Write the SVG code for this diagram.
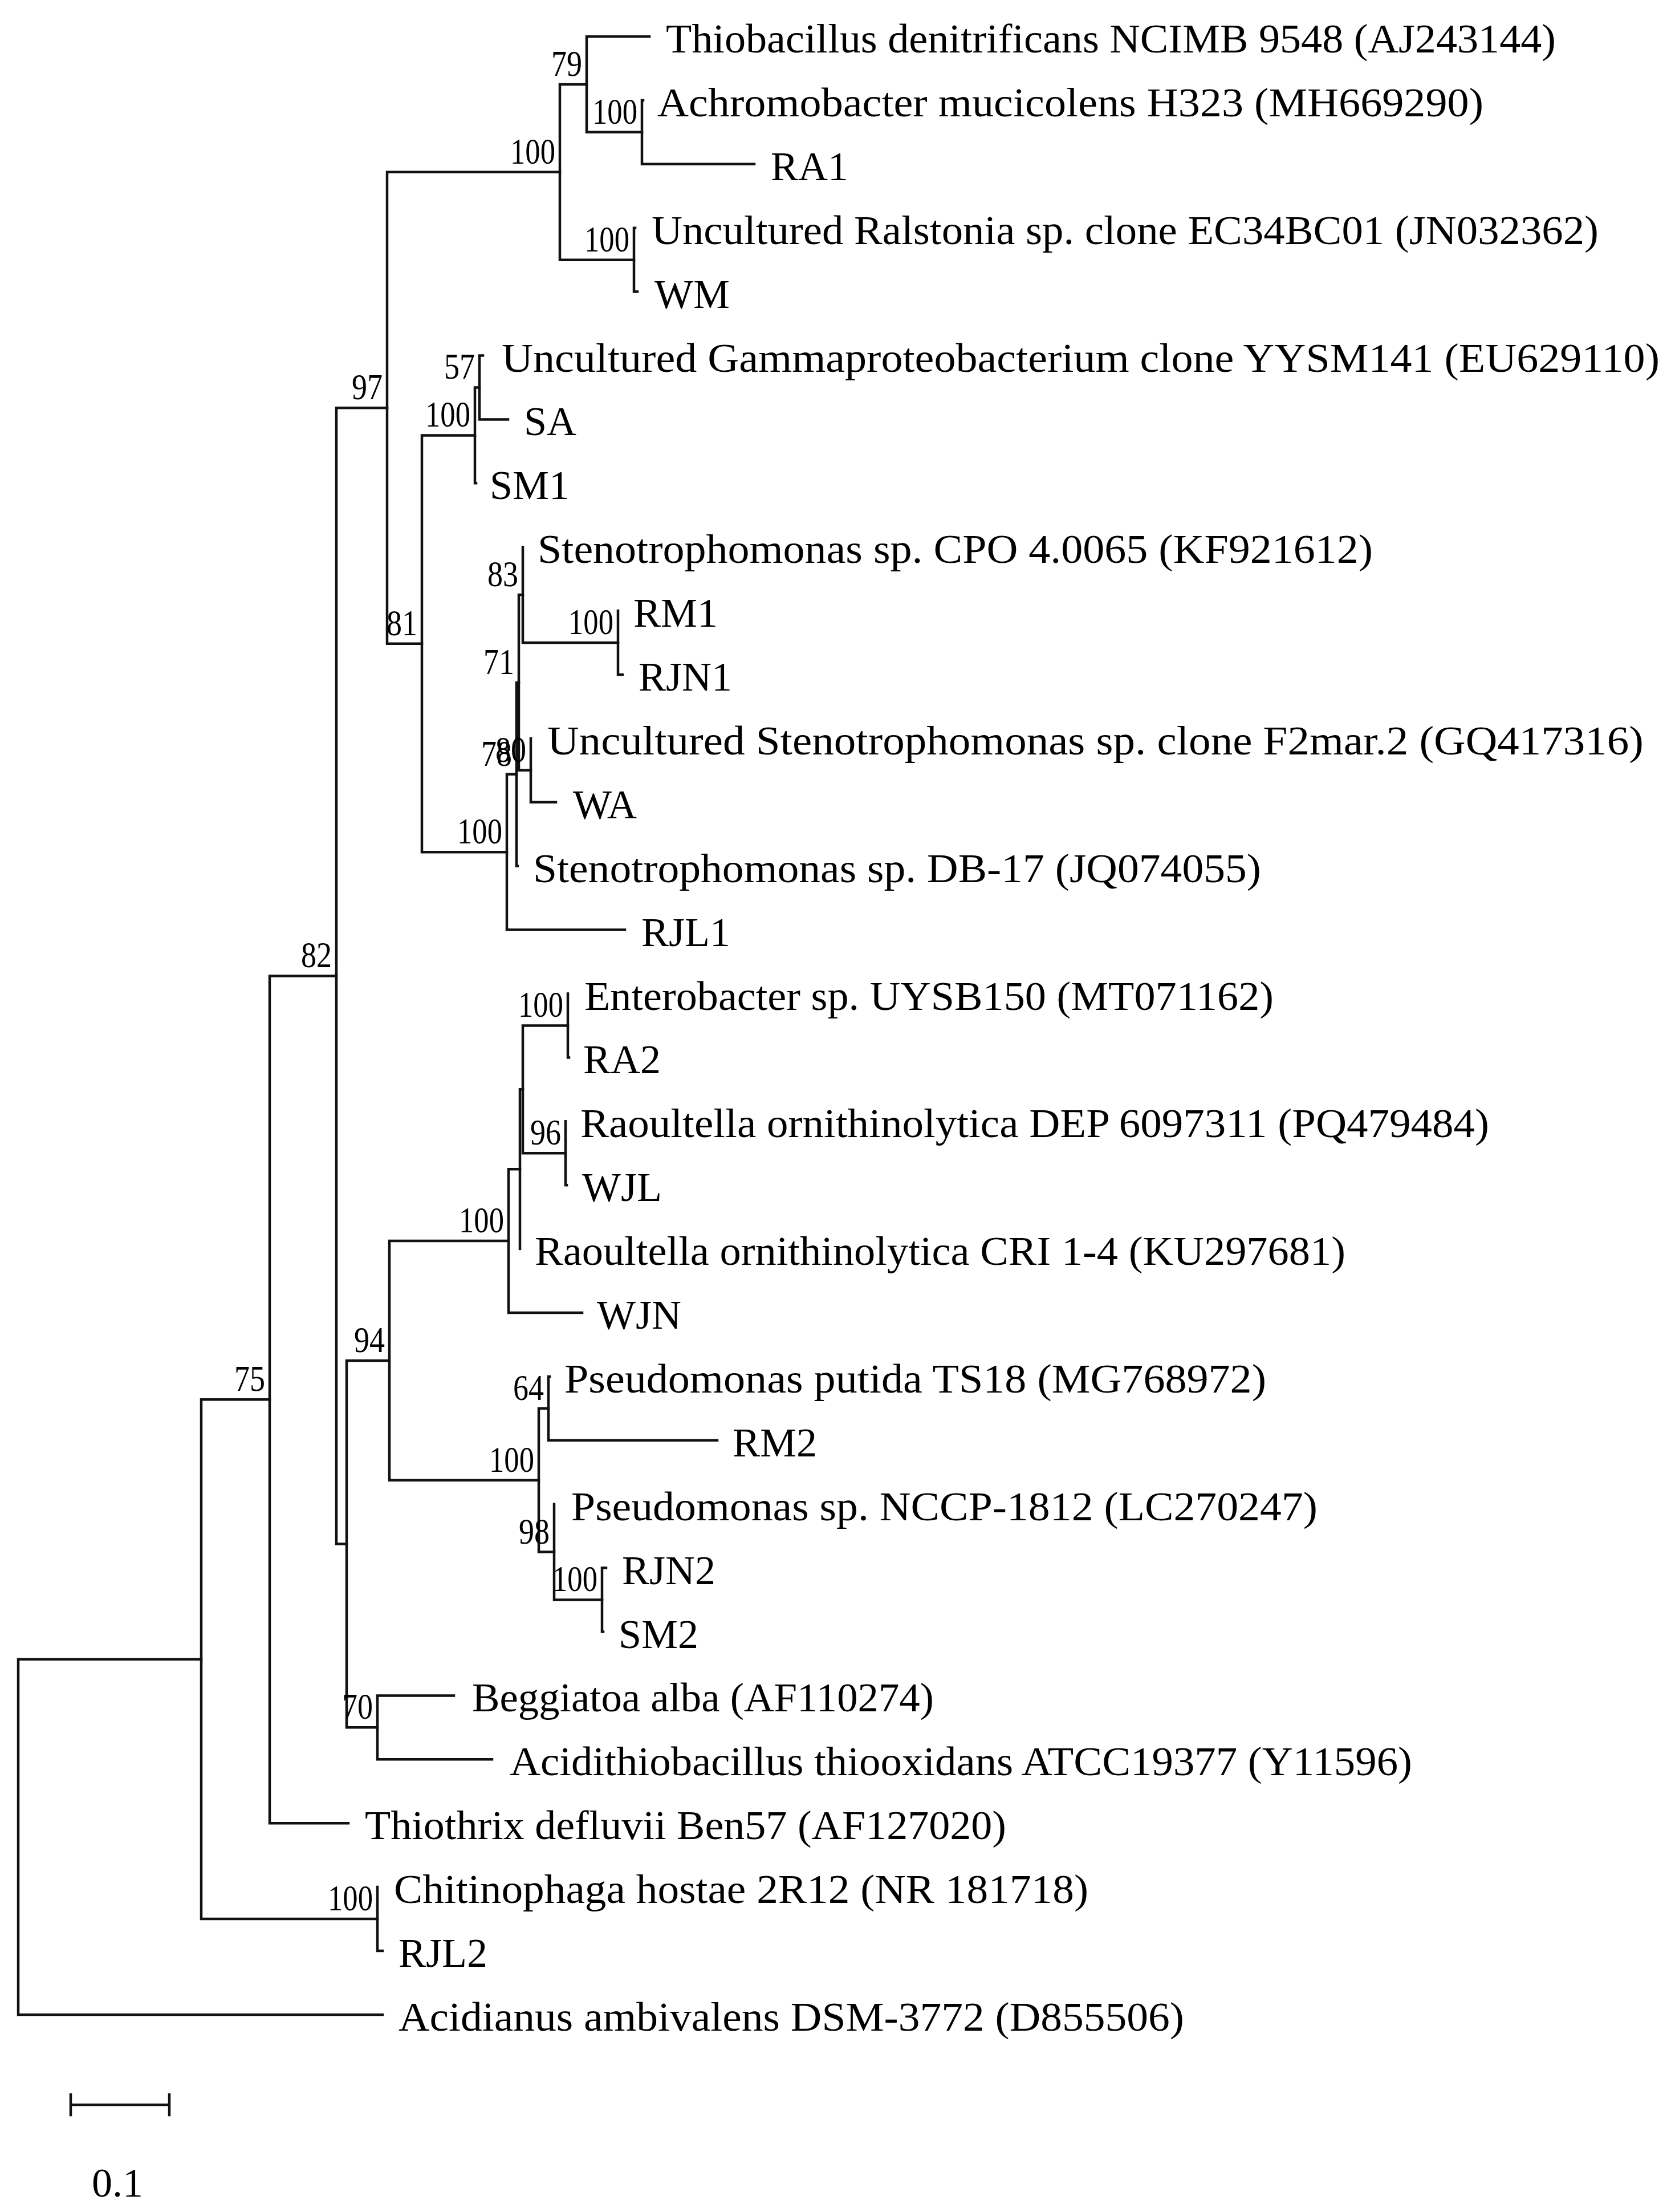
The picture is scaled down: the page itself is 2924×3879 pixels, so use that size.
<svg xmlns="http://www.w3.org/2000/svg" width="2924" height="3879" viewBox="0 0 2924 3879">
<style>
.br{fill:none;stroke:#111;stroke-width:4.5;stroke-linejoin:miter;stroke-linecap:square}
.tx{font-family:"Liberation Serif","Times New Roman",serif;font-size:72px;fill:#000}
.bs{font-family:"Liberation Serif","Times New Roman",serif;font-size:63px;fill:#000;text-anchor:end}
</style>
<rect width="2924" height="3879" fill="#fff"/>
<g id="connectors">
<path class="br" d="M1139 64 H1029 V231.85 H1126"/>
<path class="br" d="M1128 175.9 H1126 V287.8 H1323"/>
<path class="br" d="M1114 399.7 H1112 V511.6 H1118"/>
<path class="br" d="M1029 147.9 H982 V455.65 H1112"/>
<path class="br" d="M847 623.5 H841 V735.4 H891"/>
<path class="br" d="M841 679.45 H833 V847.3 H835"/>
<path class="br" d="M1084 1071.1 V1183 H1092"/>
<path class="br" d="M917 959.2 V1127.05 H1084"/>
<path class="br" d="M931 1294.9 V1406.8 H975"/>
<path class="br" d="M917 1043.1 H910 V1350.85 H931"/>
<path class="br" d="M910 1197 H906 V1518.7 H908"/>
<path class="br" d="M906 1357.85 H889 V1630.6 H1096"/>
<path class="br" d="M833 763.4 H740 V1494.2 H889"/>
<path class="br" d="M982 301.8 H679 V1128.8 H740"/>
<path class="br" d="M996 1742.5 V1854.4 H998"/>
<path class="br" d="M992 1966.3 V2078.2 H994"/>
<path class="br" d="M996 1798.45 H917 V2022.25 H992"/>
<path class="br" d="M917 1910.35 H912 V2190.1"/>
<path class="br" d="M912 2050.2 H892 V2302 H1021"/>
<path class="br" d="M964 2413.9 H962 V2525.8 H1258"/>
<path class="br" d="M1063 2749.6 H1056 V2861.5 H1058"/>
<path class="br" d="M972 2637.7 V2805.55 H1056"/>
<path class="br" d="M962 2469.85 H945 V2721.6 H972"/>
<path class="br" d="M892 2176.1 H683 V2595.7 H945"/>
<path class="br" d="M796 2973.4 H662 V3085.3 H863"/>
<path class="br" d="M683 2385.9 H608 V3029.35 H662"/>
<path class="br" d="M679 715.3 H590 V2707.6 H608"/>
<path class="br" d="M590 1711.45 H473 V3197.2 H611"/>
<path class="br" d="M662 3309.1 V3421 H671"/>
<path class="br" d="M473 2454.3 H353 V3365.05 H662"/>
<path class="br" d="M353 2909.7 H32 V3532.9 H671"/>
</g>
<g id="taxa">
<g id="t0"><text class="tx" x="1168" y="92" textLength="1561" lengthAdjust="spacingAndGlyphs">Thiobacillus denitrificans NCIMB 9548 (AJ243144)</text></g>
<g id="t1"><text class="tx" x="1153" y="204" textLength="1449" lengthAdjust="spacingAndGlyphs">Achromobacter mucicolens H323 (MH669290)</text></g>
<g id="t2"><text class="tx" x="1352" y="316">RA1</text></g>
<g id="t3"><text class="tx" x="1143" y="428" textLength="1661" lengthAdjust="spacingAndGlyphs">Uncultured Ralstonia sp. clone EC34BC01 (JN032362)</text></g>
<g id="t4"><text class="tx" x="1148" y="540">WM</text></g>
<g id="t5"><text class="tx" x="880" y="652" textLength="2031" lengthAdjust="spacingAndGlyphs">Uncultured Gammaproteobacterium clone YYSM141 (EU629110)</text></g>
<g id="t6"><text class="tx" x="919" y="763">SA</text></g>
<g id="t7"><text class="tx" x="859" y="875">SM1</text></g>
<g id="t8"><text class="tx" x="943" y="987" textLength="1465" lengthAdjust="spacingAndGlyphs">Stenotrophomonas sp. CPO 4.0065 (KF921612)</text></g>
<g id="t9"><text class="tx" x="1111" y="1099">RM1</text></g>
<g id="t10"><text class="tx" x="1120" y="1211">RJN1</text></g>
<g id="t11"><text class="tx" x="960" y="1323" textLength="1923" lengthAdjust="spacingAndGlyphs">Uncultured Stenotrophomonas sp. clone F2mar.2 (GQ417316)</text></g>
<g id="t12"><text class="tx" x="1005" y="1435">WA</text></g>
<g id="t13"><text class="tx" x="935" y="1547" textLength="1277" lengthAdjust="spacingAndGlyphs">Stenotrophomonas sp. DB-17 (JQ074055)</text></g>
<g id="t14"><text class="tx" x="1125" y="1659">RJL1</text></g>
<g id="t15"><text class="tx" x="1025" y="1771" textLength="1209" lengthAdjust="spacingAndGlyphs">Enterobacter sp. UYSB150 (MT071162)</text></g>
<g id="t16"><text class="tx" x="1023" y="1882">RA2</text></g>
<g id="t17"><text class="tx" x="1018" y="1994" textLength="1594" lengthAdjust="spacingAndGlyphs">Raoultella ornithinolytica DEP 6097311 (PQ479484)</text></g>
<g id="t18"><text class="tx" x="1021" y="2106">WJL</text></g>
<g id="t19"><text class="tx" x="938" y="2218" textLength="1422" lengthAdjust="spacingAndGlyphs">Raoultella ornithinolytica CRI 1-4 (KU297681)</text></g>
<g id="t20"><text class="tx" x="1047" y="2330">WJN</text></g>
<g id="t21"><text class="tx" x="990" y="2442" textLength="1231" lengthAdjust="spacingAndGlyphs">Pseudomonas putida TS18 (MG768972)</text></g>
<g id="t22"><text class="tx" x="1285" y="2554">RM2</text></g>
<g id="t23"><text class="tx" x="1002" y="2666" textLength="1309" lengthAdjust="spacingAndGlyphs">Pseudomonas sp. NCCP-1812 (LC270247)</text></g>
<g id="t24"><text class="tx" x="1091" y="2778">RJN2</text></g>
<g id="t25"><text class="tx" x="1085" y="2890">SM2</text></g>
<g id="t26"><text class="tx" x="828" y="3001" textLength="810" lengthAdjust="spacingAndGlyphs">Beggiatoa alba (AF110274)</text></g>
<g id="t27"><text class="tx" x="894" y="3113" textLength="1583" lengthAdjust="spacingAndGlyphs">Acidithiobacillus thiooxidans ATCC19377 (Y11596)</text></g>
<g id="t28"><text class="tx" x="640" y="3225" textLength="1125" lengthAdjust="spacingAndGlyphs">Thiothrix defluvii Ben57 (AF127020)</text></g>
<g id="t29"><text class="tx" x="691" y="3337" textLength="1218" lengthAdjust="spacingAndGlyphs">Chitinophaga hostae 2R12 (NR 181718)</text></g>
<g id="t30"><text class="tx" x="699" y="3449">RJL2</text></g>
<g id="t31"><text class="tx" x="699" y="3561" textLength="1378" lengthAdjust="spacingAndGlyphs">Acidianus ambivalens DSM-3772 (D855506)</text></g>
</g>
<g id="bootstrap">
<g id="n79"><text class="bs" x="1021" y="133" textLength="54" lengthAdjust="spacingAndGlyphs">79</text></g>
<g id="nA"><text class="bs" x="1118" y="217" textLength="79" lengthAdjust="spacingAndGlyphs">100</text></g>
<g id="nR"><text class="bs" x="1104" y="441" textLength="79" lengthAdjust="spacingAndGlyphs">100</text></g>
<g id="nB"><text class="bs" x="974" y="287" textLength="79" lengthAdjust="spacingAndGlyphs">100</text></g>
<g id="n57"><text class="bs" x="833" y="664" textLength="54" lengthAdjust="spacingAndGlyphs">57</text></g>
<g id="nG"><text class="bs" x="825" y="748" textLength="79" lengthAdjust="spacingAndGlyphs">100</text></g>
<g id="nRM"><text class="bs" x="1076" y="1112" textLength="79" lengthAdjust="spacingAndGlyphs">100</text></g>
<g id="n83"><text class="bs" x="909" y="1028" textLength="54" lengthAdjust="spacingAndGlyphs">83</text></g>
<g id="n71"><text class="bs" x="902" y="1182" textLength="54" lengthAdjust="spacingAndGlyphs">71</text></g>
<g id="n78"><text class="bs" x="898" y="1343" textLength="54" lengthAdjust="spacingAndGlyphs">78</text></g>
<g id="n80"><text class="bs" x="923" y="1336" textLength="54" lengthAdjust="spacingAndGlyphs">80</text></g>
<g id="nS"><text class="bs" x="881" y="1479" textLength="79" lengthAdjust="spacingAndGlyphs">100</text></g>
<g id="n81"><text class="bs" x="732" y="1114" textLength="54" lengthAdjust="spacingAndGlyphs">81</text></g>
<g id="n97"><text class="bs" x="671" y="700" textLength="54" lengthAdjust="spacingAndGlyphs">97</text></g>
<g id="nE"><text class="bs" x="988" y="1783" textLength="79" lengthAdjust="spacingAndGlyphs">100</text></g>
<g id="n96"><text class="bs" x="984" y="2007" textLength="54" lengthAdjust="spacingAndGlyphs">96</text></g>
<g id="nM"><text class="bs" x="884" y="2161" textLength="79" lengthAdjust="spacingAndGlyphs">100</text></g>
<g id="n64"><text class="bs" x="954" y="2455" textLength="54" lengthAdjust="spacingAndGlyphs">64</text></g>
<g id="nRS"><text class="bs" x="1048" y="2790" textLength="79" lengthAdjust="spacingAndGlyphs">100</text></g>
<g id="n98"><text class="bs" x="964" y="2707" textLength="54" lengthAdjust="spacingAndGlyphs">98</text></g>
<g id="nP"><text class="bs" x="937" y="2581" textLength="79" lengthAdjust="spacingAndGlyphs">100</text></g>
<g id="n94"><text class="bs" x="675" y="2371" textLength="54" lengthAdjust="spacingAndGlyphs">94</text></g>
<g id="n70"><text class="bs" x="654" y="3014" textLength="54" lengthAdjust="spacingAndGlyphs">70</text></g>
<g id="n82"><text class="bs" x="582" y="1696" textLength="54" lengthAdjust="spacingAndGlyphs">82</text></g>
<g id="nC"><text class="bs" x="654" y="3350" textLength="79" lengthAdjust="spacingAndGlyphs">100</text></g>
<g id="n75"><text class="bs" x="465" y="2439" textLength="54" lengthAdjust="spacingAndGlyphs">75</text></g>
</g>
<g id="scalebar">
<path class="br" d="M124 3691 H297 M124 3673 V3709 M297 3673 V3709"/>
<text class="tx" x="161" y="3852">0.1</text>
</g>
</svg>
